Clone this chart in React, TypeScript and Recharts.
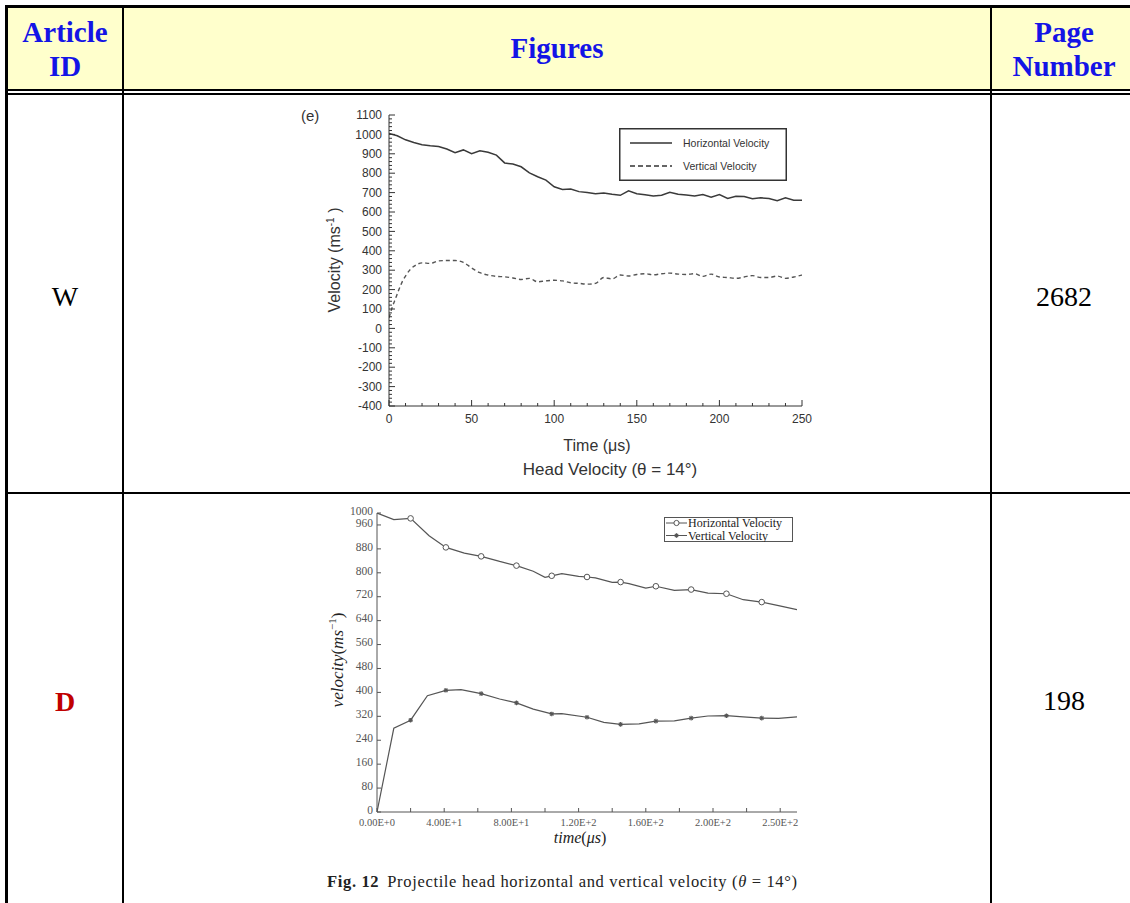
import React from 'react';
import { LineChart, Line, XAxis, YAxis, Legend } from 'recharts';

// ---- chart W (Head Velocity, theta = 14 deg) ----
const wTime = [0, 5, 10, 15, 20, 25, 30, 35, 40, 45, 50, 55, 60, 65, 70, 75, 80, 85, 90, 95, 100, 105, 110, 115, 120, 125, 130, 135, 140, 145, 150, 155, 160, 165, 170, 175, 180, 185, 190, 195, 200, 205, 210, 215, 220, 225, 230, 235, 240, 245, 250];
const wHorizontal = [1005, 993, 972, 958, 947, 942, 938, 925, 906, 920, 901, 916, 908, 893, 853, 847, 833, 802, 782, 764, 730, 716, 719, 705, 700, 694, 698, 691, 686, 709, 694, 689, 683, 686, 702, 691, 688, 683, 690, 676, 690, 670, 681, 680, 668, 673, 670, 658, 673, 661, 660];
const wVertTime = [0, 2, 4, 6, 8, 10, 13, 16, 20, 25, 30, 35, 40, 45, 50, 55, 60, 65, 70, 75, 80, 85, 90, 95, 100, 105, 110, 115, 120, 125, 130, 135, 140, 145, 150, 155, 160, 165, 170, 175, 180, 185, 190, 195, 200, 205, 210, 215, 220, 225, 230, 235, 240, 245, 250];
const wVertical = [55, 110, 155, 200, 240, 270, 305, 325, 338, 335, 348, 350, 350, 340, 312, 287, 275, 268, 266, 260, 252, 258, 240, 245, 248, 245, 235, 232, 228, 232, 262, 255, 275, 270, 278, 282, 276, 282, 285, 280, 278, 282, 268, 280, 265, 262, 258, 265, 272, 262, 262, 270, 258, 265, 275];
const wXMajor = [0, 50, 100, 150, 200, 250];
const wYMajor = [-400, -300, -200, -100, 0, 100, 200, 300, 400, 500, 600, 700, 800, 900, 1000, 1100];

// ---- chart D (Fig. 12) ----
const dHorTime = [0, 10, 20, 31, 41, 52, 62, 73, 83, 93, 100, 104, 110, 120, 125, 130, 140, 145, 150, 160, 166, 177, 187, 197, 208, 218, 229, 239, 250];
const dHorizontal = [1000, 978, 982, 924, 885, 866, 855, 838, 824, 805, 785, 790, 797, 788, 786, 783, 768, 769, 764, 749, 755, 741, 744, 732, 730, 710, 702, 690, 677];
const dVertTime = [0, 10, 20, 30, 41, 50, 62, 73, 83, 93, 104, 110, 125, 135, 145, 156, 166, 177, 187, 197, 208, 218, 229, 239, 250];
const dVertical = [0, 280, 307, 389, 407, 409, 396, 378, 365, 344, 328, 329, 317, 300, 293, 295, 304, 305, 314, 321, 322, 318, 314, 313, 318];
const dMarkTimes = [20, 41, 62, 83, 104, 125, 145, 166, 187, 208, 229];
const dXMajor = [0, 40, 80, 120, 160, 200, 240];
const dXLabels = ['0.00E+0', '4.00E+1', '8.00E+1', '1.20E+2', '1.60E+2', '2.00E+2', '2.50E+2'];
const dYTicks = [0, 80, 160, 240, 320, 400, 480, 560, 640, 720, 800, 880, 960, 1000];

const wHData = wTime.map((t, i) => ({ t, v: wHorizontal[i] }));
const wVData = wVertTime.map((t, i) => ({ t, v: wVertical[i] }));
const dHData = dHorTime.map((t, i) => ({ t, v: dHorizontal[i] }));
const dVData = dVertTime.map((t, i) => ({ t, v: dVertical[i] }));

const subdivide = (major: number[], parts: number) => {
  const out: number[] = [];
  for (let i = 0; i < major.length - 1; i++) {
    const step = (major[i + 1] - major[i]) / parts;
    for (let k = 0; k < parts; k++) out.push(major[i] + k * step);
  }
  out.push(major[major.length - 1]);
  return out;
};

const wXTicks = subdivide(wXMajor, 5);
const wYTicks = subdivide(wYMajor, 5);
const dXTicks = subdivide(dXMajor, 2);

const SANS = '"Liberation Sans", Arial, sans-serif';
const SERIF = '"Liberation Serif", "Times New Roman", serif';

type Side = 'left' | 'right' | 'top' | 'bottom';
interface TickStyle {
  side: Side;
  major: number[];
  long: number;
  short: number;
  color: string;
  format?: (v: number) => string;
  font?: string;
  size?: number;
  gap?: number;
  dy?: string;
}

// draws inward tick marks (long on majors) and the label of major ticks
function axisTick(s: TickStyle) {
  return (props: any) => {
    const { x, y, payload, index } = props;
    const v = payload.value;
    const isMajor = s.major.includes(v);
    const len = isMajor ? s.long : s.short;
    let x2 = x;
    let y2 = y;
    if (s.side === 'left') x2 = x + len;
    else if (s.side === 'right') x2 = x - len;
    else if (s.side === 'bottom') y2 = y - len;
    else y2 = y + len;
    let label = null;
    if (isMajor && s.format) {
      const txt = s.format(v);
      if (s.side === 'left') {
        label = (
          <text x={x - (s.gap || 4)} y={y} dy={s.dy || '0.35em'} textAnchor="end" fontFamily={s.font} fontSize={s.size} fill={s.color}>
            {txt}
          </text>
        );
      } else if (s.side === 'bottom') {
        label = (
          <text x={x} y={y + (s.gap || 10)} textAnchor="middle" fontFamily={s.font} fontSize={s.size} fill={s.color}>
            {txt}
          </text>
        );
      }
    }
    return (
      <g key={`tick-${s.side}-${index}`}>
        <line x1={x} y1={y} x2={x2} y2={y2} stroke={s.color} strokeWidth={1} />
        {label}
      </g>
    );
  };
}

const W_INK = '#333';
const D_INK = '#555';

function WLegend() {
  return (
    <svg width={168} height={53}>
      <rect x={0.75} y={0.75} width={166.5} height={51.5} fill="#fff" stroke={W_INK} strokeWidth={1.5} />
      <line x1={11} y1={15} x2={53} y2={15} stroke={W_INK} strokeWidth={1.3} />
      <text x={64} y={15} dy="0.35em" fontFamily={SANS} fontSize={10.5} fill={W_INK}>Horizontal Velocity</text>
      <line x1={11} y1={38} x2={53} y2={38} stroke={W_INK} strokeWidth={1.3} strokeDasharray="5 3" />
      <text x={64} y={38} dy="0.35em" fontFamily={SANS} fontSize={10.5} fill={W_INK}>Vertical Velocity</text>
    </svg>
  );
}

function Asterisk({ cx, cy }: { cx: number; cy: number }) {
  return (
    <g stroke={D_INK} strokeWidth={1.1}>
      <line x1={cx - 2.3} y1={cy} x2={cx + 2.3} y2={cy} />
      <line x1={cx} y1={cy - 2.3} x2={cx} y2={cy + 2.3} />
      <line x1={cx - 1.7} y1={cy - 1.7} x2={cx + 1.7} y2={cy + 1.7} />
      <line x1={cx - 1.7} y1={cy + 1.7} x2={cx + 1.7} y2={cy - 1.7} />
    </g>
  );
}

function DLegend() {
  return (
    <svg width={129} height={25}>
      <rect x={0.5} y={0.5} width={128} height={24} fill="#fff" stroke={D_INK} strokeWidth={1} />
      <line x1={2} y1={6} x2={23} y2={6} stroke={D_INK} strokeWidth={1} />
      <circle cx={12.5} cy={6} r={2.6} fill="#fff" stroke={D_INK} strokeWidth={1} />
      <text x={24} y={6} dy="0.35em" fontFamily={SERIF} fontSize={12} fill="#222">Horizontal Velocity</text>
      <line x1={2} y1={18.5} x2={23} y2={18.5} stroke={D_INK} strokeWidth={1} />
      <Asterisk cx={12.5} cy={18.5} />
      <text x={24} y={18.5} dy="0.35em" fontFamily={SERIF} fontSize={12} fill="#222">Vertical Velocity</text>
    </svg>
  );
}

const markSet = new Set(dMarkTimes);
const circleDot = (p: any) =>
  markSet.has(p.payload.t) ? (
    <circle key={`c-${p.index}`} cx={p.cx} cy={p.cy} r={2.8} fill="#fff" stroke={D_INK} strokeWidth={1} />
  ) : (
    <g key={`c-${p.index}`} />
  );
const starDot = (p: any) =>
  markSet.has(p.payload.t) ? (
    <g key={`s-${p.index}`}>
      <Asterisk cx={p.cx} cy={p.cy} />
    </g>
  ) : (
    <g key={`s-${p.index}`} />
  );

const HEADER_BLUE = '#1414e6';

export default function App() {
  return (
    <div style={{ position: 'absolute', left: 0, top: 0, width: 1130, height: 903, background: '#fff', overflow: 'hidden' }}>
      {/* table */}
      <div style={{ position: 'absolute', left: 8, top: 8, width: 1122, height: 81, background: '#ffffcc' }} />
      <div style={{ position: 'absolute', left: 5, top: 5, width: 1125, height: 3, background: '#000' }} />
      <div style={{ position: 'absolute', left: 5, top: 5, width: 3, height: 898, background: '#000' }} />
      <div style={{ position: 'absolute', left: 122, top: 5, width: 2, height: 898, background: '#000' }} />
      <div style={{ position: 'absolute', left: 990, top: 5, width: 2, height: 898, background: '#000' }} />
      <div style={{ position: 'absolute', left: 5, top: 89, width: 1125, height: 2, background: '#000' }} />
      <div style={{ position: 'absolute', left: 5, top: 93, width: 1125, height: 2, background: '#000' }} />
      <div style={{ position: 'absolute', left: 5, top: 492, width: 1125, height: 2, background: '#000' }} />

      <svg width={1130} height={903} style={{ position: 'absolute', left: 0, top: 0 }}>
        <g fontFamily={SERIF} fontWeight="bold" fontSize={29} fill={HEADER_BLUE} textAnchor="middle">
          <text x={65} y={42}>Article</text>
          <text x={65} y={76}>ID</text>
          <text x={557} y={58}>Figures</text>
          <text x={1064} y={42}>Page</text>
          <text x={1064} y={76}>Number</text>
        </g>
        <g fontFamily={SERIF} fontSize={28} textAnchor="middle">
          <text x={65} y={306} fill="#000">W</text>
          <text x={1064} y={306} fill="#000">2682</text>
          <text x={65} y={711} fill="#c00000" fontWeight="bold">D</text>
          <text x={1064} y={710} fill="#000">198</text>
        </g>

        {/* chart W texts */}
        <text x={301} y={121} fontFamily={SANS} fontSize={15} fill={W_INK}>(e)</text>
        <text transform="translate(340,260) rotate(-90)" textAnchor="middle" fontFamily={SANS} fontSize={16} fill={W_INK}>
          Velocity (ms<tspan dy={-6} fontSize={10}>-1</tspan><tspan dy={6}> )</tspan>
        </text>
        <text x={597} y={451} textAnchor="middle" fontFamily={SANS} fontSize={16} fill={W_INK}>Time (μs)</text>
        <text x={610} y={475} textAnchor="middle" fontFamily={SANS} fontSize={17} fill={W_INK}>Head Velocity (θ = 14°)</text>

        {/* chart D texts */}
        <text transform="translate(343,660) rotate(-90)" textAnchor="middle" fontFamily={SERIF} fontSize={17} fill="#222">
          <tspan fontStyle="italic">velocity</tspan>(<tspan fontStyle="italic">ms</tspan><tspan dy={-7} fontSize={11}>−1</tspan><tspan dy={7}>)</tspan>
        </text>
        <text x={580} y={843} textAnchor="middle" fontFamily={SERIF} fontSize={16} fill="#222">
          <tspan fontStyle="italic">time</tspan>(<tspan fontStyle="italic">μs</tspan>)
        </text>
        <text x={327} y={887} fontFamily={SERIF} fontSize={16.5} fill="#222" textLength={470} lengthAdjust="spacing">
          <tspan fontWeight="bold">Fig. 12</tspan>
          <tspan dx={8}>Projectile head horizontal and vertical velocity (</tspan>
          <tspan fontStyle="italic">θ</tspan> = 14°)
        </text>
      </svg>

      {/* chart W */}
      <div style={{ position: 'absolute', left: 320, top: 105 }}>
        <LineChart width={500} height={326} margin={{ top: 10, right: 18, bottom: 0, left: 0 }}>
          <XAxis dataKey="t" type="number" domain={[0, 250]} ticks={wXTicks} interval={0} height={25}
            allowDataOverflow tickLine={false} tickSize={0} tickMargin={0} axisLine={{ stroke: W_INK }}
            tick={axisTick({ side: 'bottom', major: wXMajor, long: 6, short: 3, color: W_INK, format: String, font: SANS, size: 12, gap: 17 })} />
          <XAxis xAxisId="top" orientation="top" type="number" domain={[0, 250]} ticks={wXTicks} interval={0} height={0}
            allowDataOverflow tickLine={false} tickSize={0} tickMargin={0} axisLine={{ stroke: W_INK }}
            tick={axisTick({ side: 'top', major: wXMajor, long: 6, short: 3, color: W_INK })} />
          <YAxis type="number" domain={[-400, 1100]} ticks={wYTicks} interval={0} width={69}
            allowDataOverflow tickLine={false} tickSize={0} tickMargin={0} axisLine={{ stroke: W_INK }}
            tick={axisTick({ side: 'left', major: wYMajor, long: 6, short: 3, color: W_INK, format: String, font: SANS, size: 12, gap: 7 })} />
          <YAxis yAxisId="right" orientation="right" type="number" domain={[-400, 1100]} ticks={wYTicks} interval={0} width={0}
            allowDataOverflow tickLine={false} tickSize={0} tickMargin={0} axisLine={{ stroke: W_INK }}
            tick={axisTick({ side: 'right', major: wYMajor, long: 6, short: 3, color: W_INK })} />
          <Legend layout="vertical" verticalAlign="middle" align="center"
            wrapperStyle={{ left: 299, top: 23, width: 168, height: 53 }} content={() => <WLegend />} />
          <Line data={wHData} dataKey="v" type="linear" stroke="#3a3a3a" strokeWidth={1.5} dot={false} isAnimationActive={false} />
          <Line data={wVData} dataKey="v" type="monotone" stroke="#555" strokeWidth={1.4} strokeDasharray="4 3" dot={false} isAnimationActive={false} />
        </LineChart>
      </div>

      {/* chart D */}
      <div style={{ position: 'absolute', left: 330, top: 505 }}>
        <LineChart width={477} height={327} margin={{ top: 8, right: 10, bottom: 0, left: 0 }}>
          <XAxis dataKey="t" type="number" domain={[0, 250]} ticks={dXTicks} interval={0} height={20}
            allowDataOverflow tickLine={false} tickSize={0} tickMargin={0} axisLine={{ stroke: D_INK }}
            tick={axisTick({ side: 'bottom', major: dXMajor, long: 4, short: 4, color: D_INK, format: (v) => dXLabels[dXMajor.indexOf(v)], font: SERIF, size: 10.5, gap: 14 })} />
          <XAxis xAxisId="top" orientation="top" type="number" domain={[0, 250]} ticks={dXTicks} interval={0} height={0}
            allowDataOverflow tickLine={false} tickSize={0} tickMargin={0} axisLine={{ stroke: D_INK }}
            tick={axisTick({ side: 'top', major: dXMajor, long: 4, short: 4, color: D_INK })} />
          <YAxis type="number" domain={[0, 1000]} ticks={dYTicks} interval={0} width={47}
            allowDataOverflow tickLine={false} tickSize={0} tickMargin={0} axisLine={{ stroke: D_INK }}
            tick={axisTick({ side: 'left', major: dYTicks, long: 4, short: 4, color: D_INK, format: String, font: SERIF, size: 11.5, gap: 4, dy: '0.15em' })} />
          <YAxis yAxisId="right" orientation="right" type="number" domain={[0, 1000]} ticks={dYTicks} interval={0} width={0}
            allowDataOverflow tickLine={false} tickSize={0} tickMargin={0} axisLine={{ stroke: D_INK }}
            tick={axisTick({ side: 'right', major: dYTicks, long: 4, short: 4, color: D_INK })} />
          <Legend layout="vertical" verticalAlign="middle" align="center"
            wrapperStyle={{ left: 334, top: 12, width: 129, height: 25 }} content={() => <DLegend />} />
          <Line data={dHData} dataKey="v" type="linear" stroke={D_INK} strokeWidth={1.2} dot={circleDot} isAnimationActive={false} />
          <Line data={dVData} dataKey="v" type="linear" stroke={D_INK} strokeWidth={1.2} dot={starDot} isAnimationActive={false} />
        </LineChart>
      </div>
    </div>
  );
}
